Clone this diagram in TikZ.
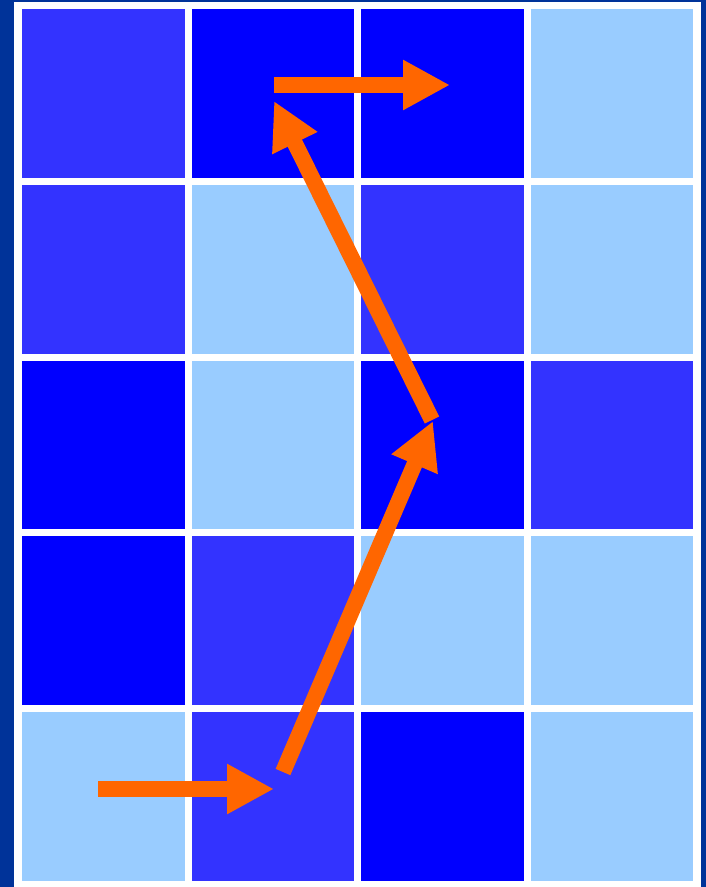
\documentclass[tikz,border=0pt]{standalone}
\usetikzlibrary{arrows.meta}
\definecolor{bgdark}{HTML}{003399}
\definecolor{cmid}{HTML}{3333FF}
\definecolor{cblue}{HTML}{0000FF}
\definecolor{clight}{HTML}{99CCFF}
\definecolor{corange}{HTML}{FF6600}
\begin{document}
\begin{tikzpicture}[x=1pt,y=-1pt,
  movearrow/.style={draw=corange, line width=16pt, line cap=butt,
    -{Triangle[length=47pt,width=47pt]}}]
\fill[bgdark] (0,0) rectangle (706,887);
\useasboundingbox (0,0) rectangle (706,887);
\fill[white] (14,2) rectangle (701,887);
% grid cells: row by row
\foreach \r/\cols in {0/{cmid,cblue,cblue,clight},
                      1/{cmid,clight,cmid,clight},
                      2/{cblue,clight,cblue,cmid},
                      3/{cblue,cmid,clight,clight},
                      4/{clight,cmid,cblue,clight}}{
  \foreach \c [count=\i from 0] in \cols {
    \fill[\c] ({22+\i*169.5},{9+\r*175.8}) rectangle ++(162.5,168.8);
  }
}
% arrow points
\coordinate (p1) at (98,789);
\coordinate (p2) at (274,789);
\coordinate (p3) at (283,772);
\coordinate (p4) at (433,421);
\coordinate (p5) at (432,420);
\coordinate (p6) at (274,101);
\coordinate (p7) at (274,85);
\coordinate (p8) at (450,85);
\draw[movearrow] (p1) -- (p2);
\draw[movearrow] (p3) -- (p4);
\draw[movearrow] (p5) -- (p6);
\draw[movearrow] (p7) -- (p8);
\end{tikzpicture}
\end{document}
